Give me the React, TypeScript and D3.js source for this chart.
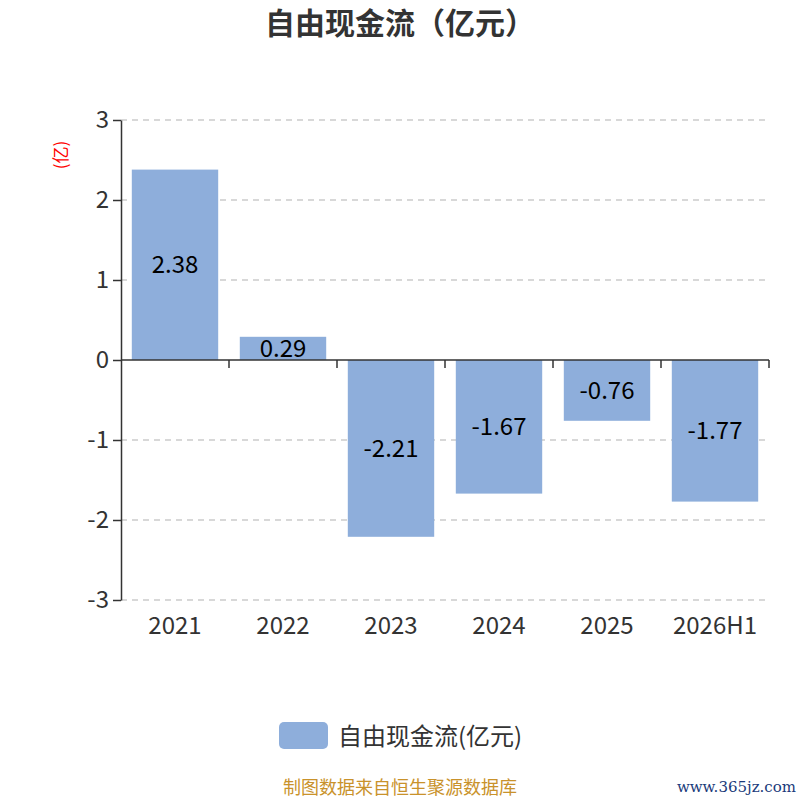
import React, { useEffect, useRef } from "react";
import * as d3 from "d3";

const categories = ["2021", "2022", "2023", "2024", "2025", "2026H1"];
const values = [2.38, 0.29, -2.21, -1.67, -0.76, -1.77];
const yTicks = [-3, -2, -1, 0, 1, 2, 3];
const seriesName = "自由现金流(亿元)";
const title = "自由现金流（亿元）";

const FONT = "'Noto Sans CJK SC', 'Noto Sans', sans-serif";

const App: React.FC = () => {
  const svgRef = useRef<SVGSVGElement | null>(null);

  useEffect(() => {
    const svg = d3.select(svgRef.current);
    svg.selectAll("*").remove();

    const w = 800;
    const h = 800;
    const m = { top: 120, right: 31, bottom: 200, left: 121 };

    const x = d3
      .scaleBand()
      .domain(categories)
      .range([m.left, w - m.right])
      .paddingInner(0.2)
      .paddingOuter(0.1);

    const y = d3.scaleLinear().domain([-3, 3]).range([h - m.bottom, m.top]);

    // title
    svg
      .append("text")
      .attr("x", w / 2)
      .attr("y", 34)
      .attr("text-anchor", "middle")
      .style("font-family", FONT)
      .style("font-size", "30px")
      .style("font-weight", "bold")
      .style("fill", "#333")
      .text(title);

    // gridlines
    svg
      .append("g")
      .selectAll("line")
      .data(yTicks.filter((t) => t !== 0))
      .enter()
      .append("line")
      .attr("x1", m.left)
      .attr("x2", w - m.right)
      .attr("y1", (d) => y(d))
      .attr("y2", (d) => y(d))
      .attr("stroke", "#ccc")
      .attr("stroke-width", 1.5)
      .attr("stroke-dasharray", "6,5");

    // bars
    svg
      .append("g")
      .selectAll("rect")
      .data(values)
      .enter()
      .append("rect")
      .attr("x", (_, i) => x(categories[i])!)
      .attr("width", x.bandwidth())
      .attr("y", (d) => y(Math.max(0, d)))
      .attr("height", (d) => Math.abs(y(d) - y(0)))
      .attr("fill", "#8eaedb");

    // value labels
    svg
      .append("g")
      .selectAll("text")
      .data(values)
      .enter()
      .append("text")
      .attr("x", (_, i) => x(categories[i])! + x.bandwidth() / 2)
      .attr("y", (d) => (y(d) + y(0)) / 2)
      .attr("dy", "0.36em")
      .attr("text-anchor", "middle")
      .style("font-family", FONT)
      .style("font-size", "24px")
      .style("fill", "#000")
      .text((d) => d.toFixed(2));

    // y axis
    const yAxis = svg
      .append("g")
      .attr("transform", `translate(${m.left},0)`)
      .call(d3.axisLeft(y).tickValues(yTicks).tickSize(8).tickSizeOuter(0).tickFormat((d) => String(d)));
    yAxis.select(".domain").attr("stroke", "#333").attr("stroke-width", 1.5);
    yAxis.selectAll(".tick line").attr("stroke", "#333").attr("stroke-width", 1.5);
    yAxis
      .selectAll(".tick text")
      .attr("x", -12)
      .style("font-family", FONT)
      .style("font-size", "24px")
      .style("fill", "#333");

    // x axis on zero line
    const step = x.step();
    const boundaries = categories.map((_, i) => m.left + step * (i + 1));
    const xAxis = svg.append("g");
    xAxis
      .append("line")
      .attr("x1", m.left)
      .attr("x2", w - m.right)
      .attr("y1", y(0))
      .attr("y2", y(0))
      .attr("stroke", "#333")
      .attr("stroke-width", 1.5);
    xAxis
      .selectAll(".xtick")
      .data(boundaries)
      .enter()
      .append("line")
      .attr("x1", (d) => d)
      .attr("x2", (d) => d)
      .attr("y1", y(0))
      .attr("y2", y(0) + 8)
      .attr("stroke", "#333")
      .attr("stroke-width", 1.5);

    // category labels at bottom
    svg
      .append("g")
      .selectAll("text")
      .data(categories)
      .enter()
      .append("text")
      .attr("x", (d) => x(d)! + x.bandwidth() / 2)
      .attr("y", h - m.bottom + 34)
      .attr("text-anchor", "middle")
      .style("font-family", FONT)
      .style("font-size", "24px")
      .style("fill", "#333")
      .text((d) => d);

    // y axis name
    svg
      .append("text")
      .attr("transform", `translate(61,${m.top + 35}) rotate(-90)`)
      .attr("text-anchor", "middle")
      .attr("dy", "0.35em")
      .style("font-family", FONT)
      .style("font-size", "17px")
      .style("fill", "red")
      .text("(亿)");

    // legend
    svg
      .append("rect")
      .attr("x", 279)
      .attr("y", 722)
      .attr("width", 49)
      .attr("height", 27)
      .attr("rx", 5)
      .attr("fill", "#8eaedb");
    svg
      .append("text")
      .attr("x", 338)
      .attr("y", 736)
      .attr("dy", "0.36em")
      .style("font-family", FONT)
      .style("font-size", "24px")
      .style("fill", "#333")
      .text(seriesName);

    // footer
    svg
      .append("text")
      .attr("x", 400)
      .attr("y", 794)
      .attr("text-anchor", "middle")
      .style("font-family", FONT)
      .style("font-size", "18px")
      .style("fill", "#c9922b")
      .text("制图数据来自恒生聚源数据库");
    svg
      .append("text")
      .attr("x", 796)
      .attr("y", 792)
      .attr("text-anchor", "end")
      .style("font-family", "'DejaVu Serif', serif")
      .style("font-size", "15px")
      .style("fill", "#1a3a7a")
      .text("www.365jz.com");
  }, []);

  return (
    <div style={{ width: 800, height: 800, position: "absolute", left: 0, top: 0 }}>
      <svg ref={svgRef} width={800} height={800} style={{ background: "#fff", display: "block" }} />
    </div>
  );
};

export default App;
